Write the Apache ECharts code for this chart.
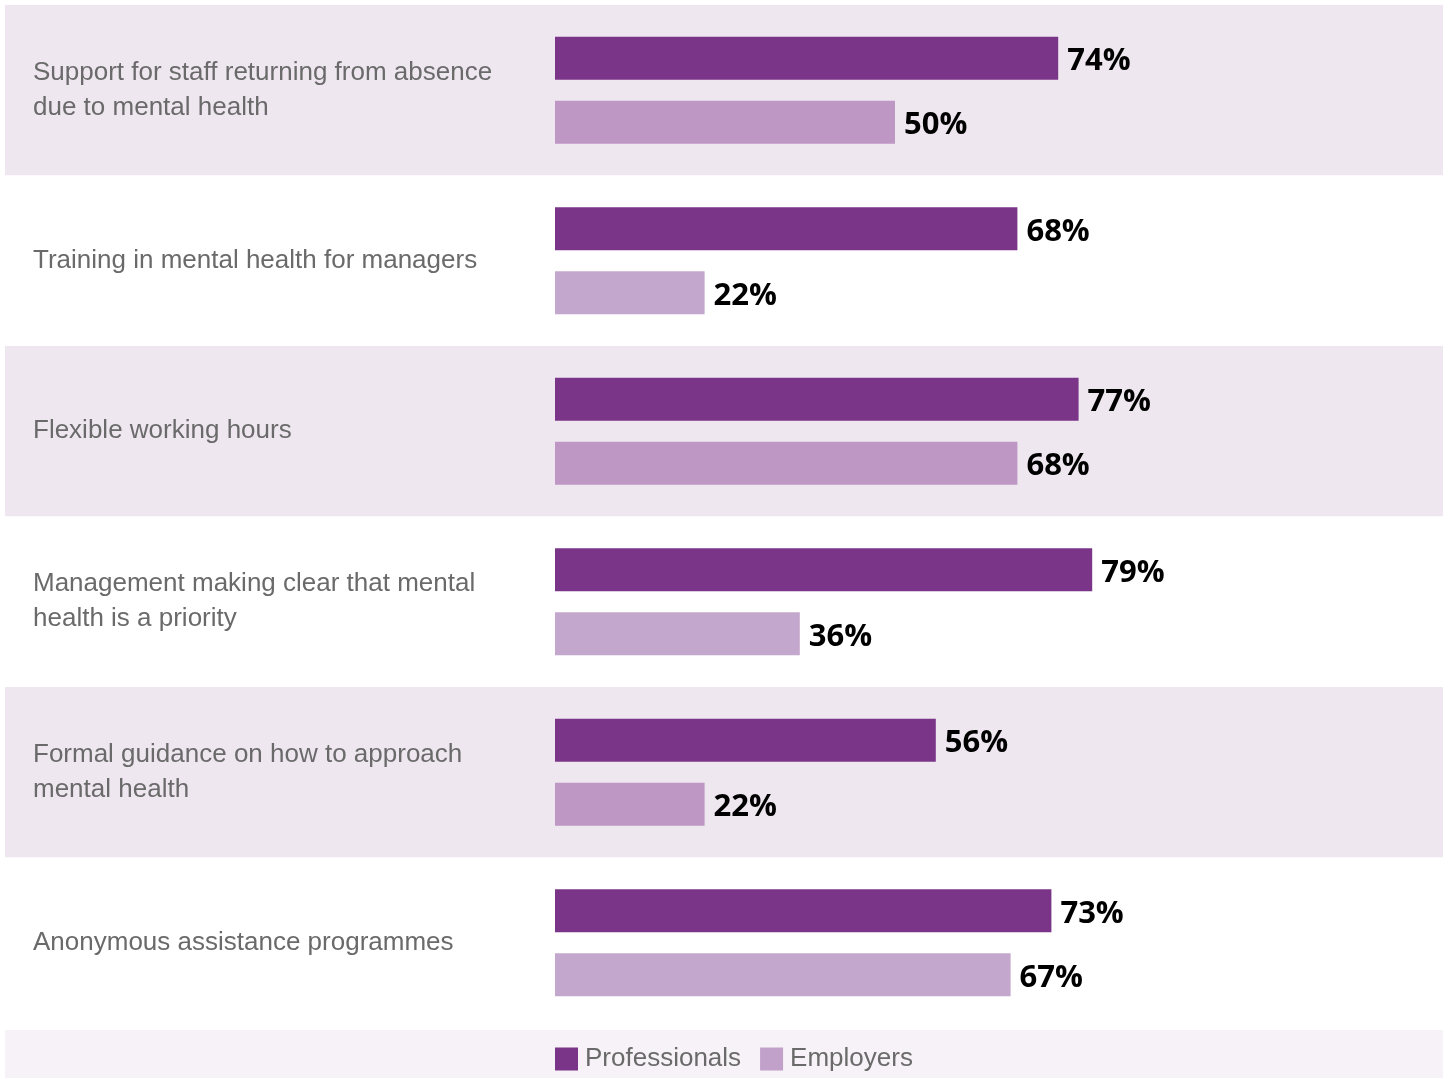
<!DOCTYPE html>
<html>
<head>
<meta charset="utf-8">
<script src="https://cdn.jsdelivr.net/npm/echarts@6/dist/echarts.min.js"></script>
<style>
  html, body { margin: 0; padding: 0; background: #fff; }
  #chart { width: 1449px; height: 1079px; }
</style>
</head>
<body>
<div id="chart"></div>
<script>
const categories = [
  'Support for staff returning from absence\ndue to mental health',
  'Training in mental health for managers',
  'Flexible working hours',
  'Management making clear that mental\nhealth is a priority',
  'Formal guidance on how to approach\nmental health',
  'Anonymous assistance programmes'
]
const professionals = [74, 68, 77, 79, 56, 73]
const employers = [50, 22, 68, 36, 22, 67]

const chart = echarts.init(document.getElementById('chart'), null, { renderer: 'canvas' })

const valueLabel = {
  show: true,
  position: 'right',
  distance: 9,
  offset: [0, 3],
  formatter: '{c}%',
  color: '#000',
  fontFamily: 'Open Sans',
  fontWeight: 'bold',
  fontSize: 31
}

const option = {
  animation: false,
  backgroundColor: '#fff',
  graphic: [
    {
      // legend strip at the bottom
      type: 'rect',
      left: 5,
      top: 1030,
      shape: { width: 1438, height: 48 },
      style: { fill: '#f7f2f7' },
      z: -1
    }
  ],
  legend: {
    left: 555,
    top: 1046,
    padding: 0,
    icon: 'rect',
    itemWidth: 23,
    itemHeight: 23,
    itemGap: 19,
    textStyle: {
      color: '#6a6a6a',
      fontFamily: 'Liberation Sans',
      fontSize: 26,
      padding: [2, 0, 0, 2]
    },
    data: [
      { name: 'Professionals', itemStyle: { color: '#7a3589' } },
      { name: 'Employers', itemStyle: { color: '#c1a0c9' } }
    ]
  },
  grid: [
    // full-width grid, only for the alternating bands
    { left: 5, width: 1438, top: 5, height: 1023 },
    // grid holding the bars
    { left: 555, width: 680, top: 5, height: 1023 }
  ],
  xAxis: [
    { gridIndex: 0, type: 'value', show: false },
    { gridIndex: 1, type: 'value', min: 0, max: 100, show: false }
  ],
  yAxis: [
    {
      gridIndex: 0,
      type: 'category',
      inverse: true,
      data: categories,
      axisLine: { show: false },
      axisTick: { show: false },
      axisLabel: { show: false },
      splitArea: {
        show: true,
        areaStyle: { color: ['#efe7f0', '#ffffff'] }
      }
    },
    {
      gridIndex: 1,
      type: 'category',
      inverse: true,
      data: categories,
      axisLine: { show: false },
      axisTick: { show: false },
      axisLabel: {
        align: 'left',
        margin: 522,
        color: '#6a6a6a',
        fontFamily: 'Liberation Sans',
        fontSize: 26,
        lineHeight: 35
      }
    }
  ],
  series: [
    {
      name: 'Professionals',
      type: 'bar',
      xAxisIndex: 1,
      yAxisIndex: 1,
      barWidth: 43,
      barGap: '49%',
      itemStyle: { color: '#7a3589' },
      label: valueLabel,
      data: professionals
    },
    {
      name: 'Employers',
      type: 'bar',
      xAxisIndex: 1,
      yAxisIndex: 1,
      barWidth: 43,
      itemStyle: {
        color: function (p) {
          return p.dataIndex % 2 ? '#c4a7cd' : '#be97c5'
        }
      },
      label: valueLabel,
      data: employers
    }
  ]
}

chart.setOption(option)
</script>
</body>
</html>
